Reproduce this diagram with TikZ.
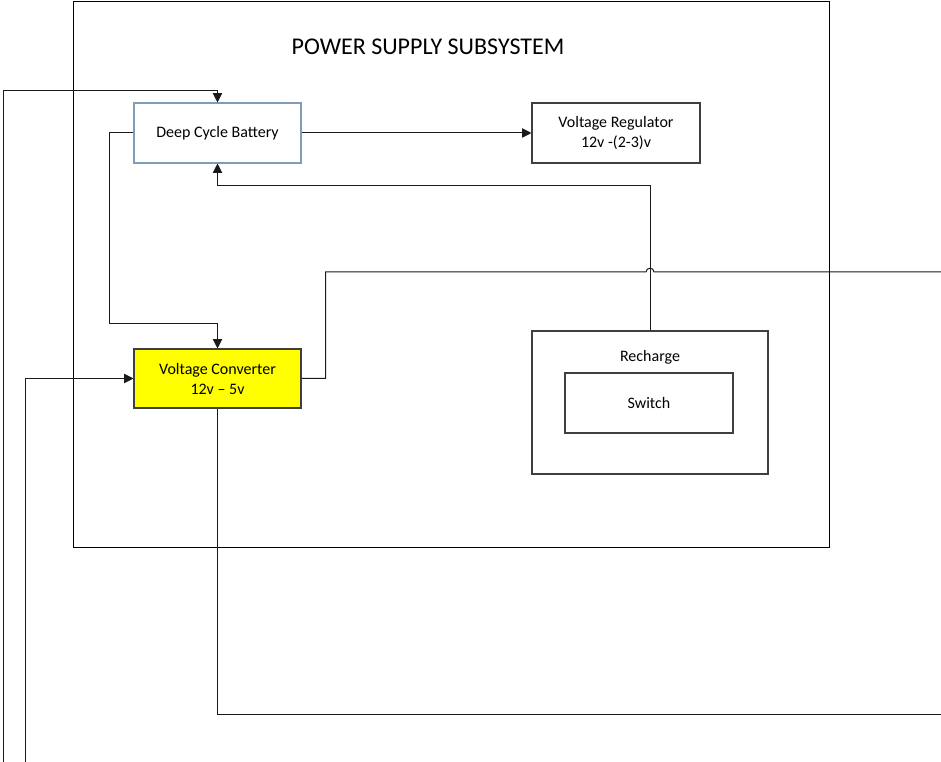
\documentclass[tikz,border=0pt]{standalone}
\usepackage{fontspec}
\setmainfont{Carlito}
\usetikzlibrary{arrows.meta,positioning}
\definecolor{wiregray}{HTML}{1A1A1A}
\definecolor{boxgray}{HTML}{3F3F3F}
\definecolor{battblue}{HTML}{7F9DB9}
\definecolor{convyellow}{HTML}{FFFF00}
\tikzset{
  blk/.style={draw=boxgray, fill=white, line width=0.8pt, inner sep=2pt,
    align=center, font=\fontsize{12}{15}\selectfont, text=black},
  battblk/.style={blk, draw=battblue},
  convblk/.style={blk, fill=convyellow},
  frame/.style={draw=black, line width=0.6pt, inner sep=0pt},
  wire/.style={line width=0.75pt, color=wiregray},
  arr/.style={wire, -{Triangle[length=7pt,width=7pt]}},
  caphead/.style={font=\fontsize{18}{21}\selectfont, text=black},
}

\begin{document}
\begin{tikzpicture}[x=0.75pt,y=-0.75pt]
  \useasboundingbox (0,0) rectangle (941,762);
  % subsystem frame and title
  \node[frame, minimum width=567pt, minimum height=409.5pt] (subsys) at (451,274) {};
  \node[caphead] (title) at (428,47) {POWER SUPPLY SUBSYSTEM};
  % blocks
  \node[battblk, minimum width=125.25pt, minimum height=45pt] (battery) at (217.5,133) {Deep Cycle Battery};
  \node[blk, minimum width=126pt, minimum height=45pt] (regulator) at (616,133) {Voltage Regulator\\12v -(2-3)v};
  \node[convblk, minimum width=125.25pt, minimum height=44.25pt] (converter) at (217.5,378.5) {Voltage Converter\\12v -- 5v};
  \node[blk, minimum width=177pt, minimum height=107.25pt] (recharge) at (650,402.5) {};
  \node[blk, draw=none, fill=none] (rechargelbl) at (650,357) {Recharge};
  \node[blk, minimum width=126pt, minimum height=45pt] (switch) at (649,403) {Switch};
  % free ends and bends
  \coordinate (inA) at (3,762);
  \coordinate (inAturn) at (3,91);
  \coordinate (inB) at (25,762);
  \coordinate (battL) at (109,324);
  \coordinate (rchTurn) at (650,186);
  \coordinate (jumpL) at (646,272);
  \coordinate (jumpR) at (654,272);
  \coordinate (outA) at (941,272);
  \coordinate (outB) at (941,714);
  % connectors
  \draw[arr] (inA) -- (inAturn) -| (battery.north);
  \draw[arr] (battery.east) -- (regulator.west);
  \draw[arr] (battery.west) -| (battL) -| (converter.north);
  \draw[arr] (recharge.north) -- (rchTurn) -| (battery.south);
  \draw[arr] (inB) |- (converter.west);
  \draw[wire] (converter.east) -- ++(24,0) |- (jumpL)
    .. controls +(0,-5) and +(0,-5) .. (jumpR) -- (outA);
  \draw[wire] (converter.south) |- (outB);
\end{tikzpicture}
\end{document}
